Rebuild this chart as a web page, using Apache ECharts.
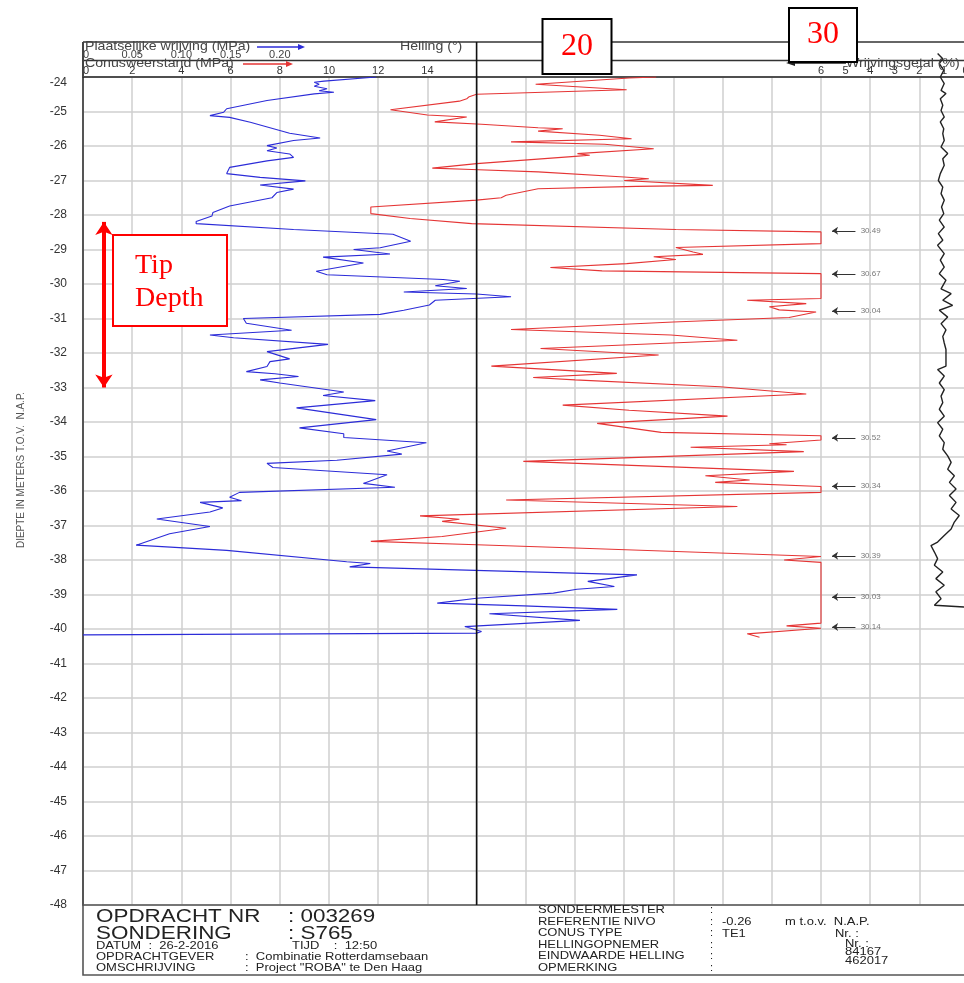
<!DOCTYPE html>
<html>
<head>
<meta charset="utf-8">
<title>Sondering S765</title>
<script src="https://cdn.jsdelivr.net/npm/echarts@6/dist/echarts.min.js"></script>
<style>
  html, body { margin: 0; padding: 0; background: #fff; }
  #chart { width: 964px; height: 983px; }
</style>
</head>
<body>
<div id="chart"></div>
<script>
// Sounding S765 (CPT), depth in metres relative to N.A.P.

// Cone resistance (MPa); the scale stops at 30 MPa
const coneDepth = [-24.00,-24.03,-24.21,-24.37,-24.50,-24.57,-24.63,-24.70,-24.95,-25.10,-25.16,-25.30,-25.37,-25.47,-25.50,-25.57,-25.69,-25.79,-25.88,-25.95,-26.08,-26.22,-26.27,-26.30,-26.51,-26.64,-26.68,-26.75,-26.90,-26.95,-27.00,-27.14,-27.17,-27.24,-27.43,-27.50,-27.57,-27.77,-27.96,-28.10,-28.25,-28.42,-28.49,-28.83,-28.94,-29.07,-29.14,-29.21,-29.29,-29.41,-29.52,-29.62,-29.70,-30.42,-30.47,-30.57,-30.66,-30.75,-30.81,-30.97,-31.10,-31.32,-31.48,-31.63,-31.87,-32.06,-32.38,-32.59,-32.71,-32.78,-32.98,-33.19,-33.51,-33.66,-33.83,-34.04,-34.30,-34.40,-34.52,-34.63,-34.66,-34.73,-34.86,-35.14,-35.43,-35.56,-35.68,-35.75,-35.87,-36.04,-36.26,-36.45,-36.72,-36.82,-36.88,-37.08,-37.32,-37.46,-37.56,-37.66,-37.90,-38.00,-38.07,-39.83,-39.91,-39.98,-40.14,-40.24];
const coneResistance = [23.3,22.2,18.4,22.1,16.0,15.7,15.6,15.3,12.5,14.0,15.6,14.3,16.2,18.5,19.5,18.5,21.0,22.3,17.4,21.2,23.2,20.1,20.6,20.0,16.0,14.2,15.8,18.5,22.0,23.0,22.0,25.6,22.5,18.5,17.2,17.0,16.0,11.7,11.7,13.3,15.8,24.1,30.0,30.0,24.1,24.8,25.2,23.2,24.1,22.1,19.0,21.1,30.0,30.0,27.0,29.4,27.9,28.3,29.8,28.7,24.0,17.4,23.9,26.6,18.6,23.4,16.6,21.7,18.3,20.0,25.9,29.4,19.5,22.2,26.2,20.9,23.5,30.0,30.0,27.9,28.6,24.7,29.3,17.9,28.9,25.3,27.1,25.7,30.0,30.0,17.2,26.6,13.7,15.3,14.6,17.2,14.6,11.7,16.0,20.3,30.0,28.5,30.0,30.0,28.6,30.0,27.0,27.5];

// Local sleeve friction (MPa)
const frictionDepth = [-24.00,-24.12,-24.15,-24.21,-24.27,-24.34,-24.40,-24.44,-24.49,-24.68,-24.92,-25.02,-25.12,-25.17,-25.31,-25.55,-25.63,-25.77,-25.84,-25.99,-26.06,-26.14,-26.23,-26.33,-26.43,-26.62,-26.80,-26.91,-27.01,-27.13,-27.25,-27.35,-27.50,-27.74,-27.93,-28.03,-28.19,-28.25,-28.42,-28.56,-28.76,-28.95,-29.00,-29.13,-29.22,-29.39,-29.63,-29.73,-29.87,-29.92,-30.05,-30.13,-30.23,-30.29,-30.37,-30.47,-30.61,-30.76,-30.88,-31.00,-31.14,-31.34,-31.48,-31.56,-31.75,-31.96,-32.17,-32.25,-32.39,-32.54,-32.60,-32.68,-32.78,-32.87,-33.13,-33.23,-33.38,-33.59,-33.93,-34.17,-34.34,-34.45,-34.60,-34.84,-34.93,-35.11,-35.20,-35.32,-35.53,-35.78,-35.89,-36.04,-36.18,-36.28,-36.33,-36.49,-36.61,-36.81,-37.03,-37.24,-37.57,-37.72,-38.05,-38.10,-38.20,-38.43,-38.62,-38.77,-38.85,-38.96,-39.11,-39.25,-39.33,-39.43,-39.56,-39.75,-39.93,-40.07,-40.12,-40.17];
const localFriction = [0.298,0.245,0.235,0.240,0.235,0.248,0.240,0.255,0.235,0.187,0.146,0.143,0.129,0.149,0.170,0.200,0.210,0.241,0.214,0.187,0.197,0.187,0.210,0.214,0.187,0.149,0.146,0.180,0.226,0.180,0.214,0.197,0.192,0.149,0.132,0.131,0.115,0.115,0.214,0.315,0.333,0.302,0.275,0.312,0.244,0.285,0.237,0.248,0.366,0.383,0.358,0.390,0.326,0.400,0.435,0.358,0.352,0.326,0.302,0.163,0.166,0.212,0.129,0.153,0.249,0.187,0.210,0.190,0.187,0.166,0.195,0.219,0.180,0.200,0.265,0.244,0.297,0.217,0.298,0.220,0.265,0.265,0.349,0.309,0.324,0.258,0.187,0.193,0.309,0.285,0.317,0.159,0.149,0.161,0.119,0.142,0.129,0.075,0.129,0.088,0.054,0.146,0.268,0.292,0.271,0.563,0.513,0.540,0.502,0.478,0.400,0.360,0.448,0.543,0.413,0.505,0.388,0.405,0.400,0.000];

// Friction ratio (%)
const ratioDepth = [-23.32,-23.47,-23.61,-23.81,-24.00,-24.19,-24.39,-24.48,-24.63,-24.82,-24.97,-25.16,-25.30,-25.50,-25.64,-25.84,-26.03,-26.22,-26.37,-26.56,-26.80,-27.00,-27.19,-27.38,-27.57,-27.77,-27.96,-28.15,-28.35,-28.54,-28.73,-28.88,-29.12,-29.31,-29.51,-29.70,-29.89,-30.14,-30.28,-30.47,-30.62,-30.76,-30.96,-31.15,-31.33,-31.52,-31.71,-31.90,-32.38,-32.48,-32.67,-32.87,-33.06,-33.25,-33.44,-33.63,-33.83,-34.02,-34.21,-34.40,-34.60,-34.79,-34.98,-35.17,-35.37,-35.56,-35.75,-35.94,-36.13,-36.33,-36.52,-36.71,-36.90,-37.10,-37.29,-37.48,-37.58,-37.77,-37.96,-38.15,-38.35,-38.54,-38.73,-38.92,-39.12,-39.31,-39.36,-39.37];
const frictionRatio = [1.26,1.05,1.19,1.01,1.15,0.99,1.12,0.92,1.15,1.05,1.12,0.99,1.15,1.01,1.05,0.99,1.12,0.85,1.05,0.99,1.15,1.23,1.05,1.12,0.99,1.10,1.01,1.19,0.99,1.23,1.05,1.26,0.99,1.15,0.99,1.19,0.92,1.12,0.71,1.05,0.65,1.19,0.85,1.12,0.92,1.05,0.99,0.92,0.92,1.26,0.99,1.19,0.99,1.12,1.05,1.19,0.99,1.26,1.05,1.19,0.99,1.05,0.85,0.71,0.85,0.58,0.78,0.51,0.78,0.51,0.71,0.38,0.58,0.71,0.99,1.26,1.53,1.39,1.26,1.39,1.05,1.33,0.99,1.33,1.12,1.39,1.33,0];

// Cone resistance above the 30 MPa scale limit
const overflowDepth = [-28.46,-29.71,-30.78,-34.46,-35.86,-37.88,-39.07,-39.94];
const overflowValue = [30.49,30.67,30.04,30.52,30.34,30.39,30.03,30.14];

// Tick labels
const coneTickLabels = [0,2,4,6,8,10,12,14];
const frictionTickLabels = ['0','0.05','0.10','0.15','0.20'];
const ratioTickLabels = [0,1,2,3,4,5,6];
const depthRange = [-48, -24];
const tipDepthRange = [-28.2, -33.0];

const SANS = '"Liberation Sans", Arial, sans-serif';
const SERIF = '"Liberation Serif", "Times New Roman", serif';
const GRID_COLOR = '#cfcfcf';

const pairs = (xs, ys) => xs.map((x, i) => [x, ys[i]]);

const chart = echarts.init(document.getElementById('chart'));

chart.setOption({
  animation: false,
  textStyle: { fontFamily: SANS },
  grid: { left: 83, top: 77, width: 885.6, height: 828, containLabel: false, outerBoundsMode: 'none' },
  xAxis: [
    { // cone resistance
      type: 'value', gridIndex: 0, position: 'top', min: 0, max: 36, interval: 2,
      axisLine: { show: true, onZero: false, lineStyle: { color: '#222', width: 1.5 } },
      axisTick: { show: false },
      axisLabel: { fontSize: 11, color: '#333', margin: 1, alignMinLabel: 'left',
        formatter: v => coneTickLabels.includes(v) ? String(v) : '' },
      splitLine: { show: true, lineStyle: { color: GRID_COLOR, width: 1.5 } }
    },
    { // local friction
      type: 'value', gridIndex: 0, position: 'top', offset: 17, min: 0, max: 0.9, interval: 0.05,
      axisLine: { show: true, onZero: false, lineStyle: { color: '#333', width: 1.3 } },
      axisTick: { show: false },
      axisLabel: { fontSize: 11, color: '#444', margin: 0, alignMinLabel: 'left',
        formatter: v => { const i = Math.round(v / 0.05); return i < frictionTickLabels.length ? frictionTickLabels[i] : ''; } },
      splitLine: { show: false }
    },
    { // friction ratio, increasing to the left
      type: 'value', gridIndex: 0, position: 'top', min: 0, max: 36, interval: 1, inverse: true,
      axisLine: { show: false },
      axisTick: { show: false },
      axisLabel: { fontSize: 11, color: '#333', margin: 1, alignMinLabel: 'right',
        formatter: v => ratioTickLabels.includes(v) ? String(v) : '' },
      splitLine: { show: false }
    }
  ],
  yAxis: {
    type: 'value', min: depthRange[0], max: depthRange[1], interval: 1,
    axisLine: { show: true, onZero: false, lineStyle: { color: '#555', width: 2 } },
    axisTick: { show: false },
    axisLabel: { fontSize: 12, color: '#333', margin: 16, verticalAlignMaxLabel: 'top' },
    splitLine: { show: true, lineStyle: { color: GRID_COLOR, width: 1.5 } }
  },
  series: [
    {
      name: 'Conusweerstand', type: 'line', xAxisIndex: 0, yAxisIndex: 0,
      data: pairs(coneResistance, coneDepth), showSymbol: false, symbol: 'none',
      lineStyle: { color: '#e53535', width: 1.1 }, z: 3
    },
    {
      name: 'Plaatselijke wrijving', type: 'line', xAxisIndex: 1, yAxisIndex: 0,
      data: pairs(localFriction, frictionDepth), showSymbol: false, symbol: 'none',
      lineStyle: { color: '#2c2cd8', width: 1.1 }, z: 3
    },
    {
      name: 'Wrijvingsgetal', type: 'line', xAxisIndex: 2, yAxisIndex: 0,
      data: pairs(frictionRatio, ratioDepth), showSymbol: false, symbol: 'none', clip: false,
      lineStyle: { color: '#222', width: 1.4 }, z: 3
    },
    { // arrows marking readings above the scale
      type: 'lines', coordinateSystem: 'cartesian2d', xAxisIndex: 0, yAxisIndex: 0,
      data: overflowDepth.map(d => ({ coords: [[31.4, d], [30.45, d]] })),
      symbol: ['none', 'arrow'], symbolSize: 6,
      lineStyle: { color: '#333', width: 1, opacity: 1 }, z: 4
    },
    { // the readings themselves, written after each arrow
      type: 'scatter', xAxisIndex: 0, yAxisIndex: 0,
      data: overflowDepth.map((d, i) => [31.55, d, overflowValue[i]]),
      symbol: 'circle', symbolSize: 1, itemStyle: { color: 'rgba(0,0,0,0)' },
      label: { show: true, position: 'right', distance: 1, fontSize: 8, color: '#555',
        formatter: p => p.value[2].toFixed(2) }, z: 4
    },
    { // tip depth interval
      type: 'lines', coordinateSystem: 'cartesian2d', xAxisIndex: 0, yAxisIndex: 0,
      data: [{ coords: [[0.85, tipDepthRange[0]], [0.85, tipDepthRange[1]]] }],
      symbol: ['arrow', 'arrow'], symbolSize: 13,
      lineStyle: { color: '#f00', width: 4, opacity: 1 }, z: 6
    }
  ]
});

// Frame, header and title block
const px = v => chart.convertToPixel({ xAxisIndex: 0 }, v);
const py = d => chart.convertToPixel({ yAxisIndex: 0 }, d);
const gLeft = px(0), gRight = px(36), gTop = py(depthRange[1]), gBottom = py(depthRange[0]);
const hTop = gTop - 35;
const STRETCH = 1.18;

function text(x, y, str, size, opt) {
  opt = opt || {};
  const align = opt.align || 'left';
  return {
    type: 'text', x: x, y: y, z: opt.z || 20, scaleX: opt.scaleX || 1, rotation: opt.rotation || 0,
    style: {
      text: str, fill: opt.color || '#333', font: (opt.weight || 'normal') + ' ' + size + 'px ' + (opt.family || SANS),
      textAlign: align, align: align, textVerticalAlign: 'middle', verticalAlign: 'middle'
    }
  };
}
function line(x1, y1, x2, y2, color, w, z) {
  return { type: 'line', z: z || 20, shape: { x1, y1, x2, y2 }, style: { stroke: color, lineWidth: w } };
}
function arrowRight(x1, x2, y, color) {
  return [line(x1, y, x2 - 5, y, color, 1.5),
    { type: 'polygon', z: 20, shape: { points: [[x2 - 7, y - 3], [x2, y], [x2 - 7, y + 3]] }, style: { fill: color } }];
}

const g = [];
// header frame
g.push(line(gLeft, hTop, gRight, hTop, '#333', 1.5));
g.push(line(gLeft, hTop, gLeft, gTop, '#444', 2));
g.push(line(px(16), hTop, px(16), gBottom, '#111', 1.6, 21));

// header captions
g.push(text(85, hTop + 5, 'Plaatselijke wrijving (MPa)', 12, { scaleX: STRETCH, color: '#444' }));
g.push(...arrowRight(257, 305, hTop + 5, '#2c2cd8'));
g.push(text(400, hTop + 5, 'Helling (\u00b0)', 12, { scaleX: STRETCH, color: '#444' }));
g.push(text(85, hTop + 22, 'Conusweerstand (MPa)', 12, { scaleX: STRETCH, color: '#444' }));
g.push(...arrowRight(243, 293, hTop + 22, '#e53535'));
g.push(text(846, hTop + 22, 'Wrijvingsgetal (%)', 12, { scaleX: STRETCH, color: '#444' }));
g.push(line(794, hTop + 21, 846, hTop + 21, '#222', 1.5));
g.push({ type: 'polygon', z: 20, shape: { points: [[786, hTop + 21], [795, hTop + 18], [795, hTop + 24]] }, style: { fill: '#222' } });

// scale call-outs
function callout(cx, top, w, h, label) {
  return [
    { type: 'rect', z: 40, shape: { x: cx - w / 2, y: top, width: w, height: h }, style: { fill: '#fff', stroke: '#000', lineWidth: 2 } },
    text(cx, top + h / 2, label, 32, { family: SERIF, color: '#f00', align: 'center', z: 41 })
  ];
}
g.push(...callout(px(20) + 2, 19, 69, 55, '20'));
g.push(...callout(px(30) + 2, 8, 68, 54, '30'));

// tip depth note
g.push({ type: 'rect', z: 40, shape: { x: 113, y: 235, width: 114, height: 91 }, style: { fill: '#fff', stroke: '#f00', lineWidth: 2 } });
g.push(text(135, 266, 'Tip', 28, { family: SERIF, color: '#f00', z: 41 }));
g.push(text(135, 299, 'Depth', 28, { family: SERIF, color: '#f00', z: 41 }));

// depth axis title
g.push(text(21, 470, 'DIEPTE IN METERS T.O.V.  N.A.P.', 10, { align: 'center', rotation: Math.PI / 2, color: '#555' }));

// title block
g.push({ type: 'rect', z: 20, shape: { x: gLeft, y: gBottom, width: gRight - gLeft + 5, height: 70 }, style: { fill: 'none', stroke: '#555', lineWidth: 1.6 } });
const L = 96, yb = gBottom;
g.push(text(L, yb + 12, 'OPDRACHT NR', 19, { scaleX: STRETCH, color: '#222' }));
g.push(text(288, yb + 12, ': 003269', 19, { scaleX: STRETCH, color: '#222' }));
g.push(text(L, yb + 29, 'SONDERING', 19, { scaleX: STRETCH, color: '#222' }));
g.push(text(288, yb + 29, ': S765', 19, { scaleX: STRETCH, color: '#222' }));
g.push(text(L, yb + 41, 'DATUM  :  26-2-2016', 11, { scaleX: STRETCH, color: '#222' }));
g.push(text(292, yb + 41, 'TIJD    :  12:50', 11, { scaleX: STRETCH, color: '#222' }));
g.push(text(L, yb + 52, 'OPDRACHTGEVER', 11, { scaleX: STRETCH, color: '#222' }));
g.push(text(245, yb + 52, ':  Combinatie Rotterdamsebaan', 11, { scaleX: STRETCH, color: '#222' }));
g.push(text(L, yb + 63, 'OMSCHRIJVING', 11, { scaleX: STRETCH, color: '#222' }));
g.push(text(245, yb + 63, ':  Project "ROBA" te Den Haag', 11, { scaleX: STRETCH, color: '#222' }));

const R = 538;
const rightRows = ['SONDEERMEESTER', 'REFERENTIE NIVO', 'CONUS TYPE', 'HELLINGOPNEMER', 'EINDWAARDE HELLING', 'OPMERKING'];
rightRows.forEach((s, i) => {
  const y = yb + 5 + i * 11.6;
  g.push(text(R, y, s, 11, { scaleX: STRETCH, color: '#222' }));
  g.push(text(710, y, ':', 11, { color: '#222' }));
});
g.push(text(722, yb + 17, '-0.26', 11, { scaleX: STRETCH, color: '#222' }));
g.push(text(785, yb + 17, 'm t.o.v.  N.A.P.', 11, { scaleX: STRETCH, color: '#222' }));
g.push(text(722, yb + 29, 'TE1', 11, { scaleX: STRETCH, color: '#222' }));
g.push(text(835, yb + 29, 'Nr. :', 11, { scaleX: STRETCH, color: '#222' }));
g.push(text(845, yb + 39, 'Nr. :', 11, { scaleX: STRETCH, color: '#222' }));
g.push(text(845, yb + 47, '84167', 11, { scaleX: STRETCH, color: '#222' }));
g.push(text(845, yb + 56, '462017', 11, { scaleX: STRETCH, color: '#222' }));

chart.setOption({ graphic: g });
</script>
</body>
</html>
